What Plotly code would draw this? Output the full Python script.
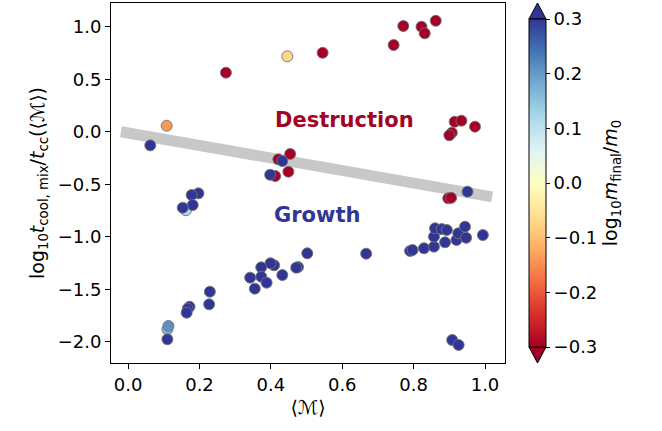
import plotly.graph_objects as go

# Mean Mach number, cooling/cloud-crushing time ratio, and final mass change
mach = [
    0.771, 0.744, 0.545, 0.822, 0.831, 0.862, 0.274, 0.915, 0.934, 0.972,
    0.907, 0.900, 0.897, 0.905, 0.454, 0.421, 0.449, 0.412,
    0.446, 0.108, 0.162, 0.110, 0.113,
    0.062, 0.432, 0.398, 0.951, 0.197, 0.178, 0.181, 0.153,
    0.502, 0.667, 0.790, 0.476, 0.471, 0.432, 0.409, 0.399, 0.373, 0.373,
    0.342, 0.388, 0.355, 0.229, 0.227, 0.172, 0.167, 0.164, 0.110,
    0.797, 0.829, 0.857, 0.857, 0.860, 0.879, 0.893, 0.888, 0.920, 0.925,
    0.944, 0.947, 0.994, 0.908, 0.926,
]
log_t_ratio = [
    1.007, 0.826, 0.752, 1.000, 0.937, 1.057, 0.562, 0.095, 0.105, 0.048,
    -0.010, -0.034, -0.634, -0.630, -0.212, -0.263, -0.381, -0.422,
    0.718, 0.057, -0.748, -1.882, -1.850,
    -0.130, -0.279, -0.410, -0.571, -0.587, -0.603, -0.698, -0.724,
    -1.158, -1.162, -1.136, -1.289, -1.295, -1.365, -1.272, -1.253, -1.292, -1.381,
    -1.390, -1.438, -1.495, -1.524, -1.644, -1.667, -1.686, -1.724, -1.977,
    -1.127, -1.110, -1.095, -1.000, -0.920, -0.927, -0.936, -1.053, -1.031, -0.968,
    -0.905, -1.010, -0.984, -1.984, -2.031,
]
log_mass_ratio = [
    -0.35, -0.35, -0.35, -0.35, -0.35, -0.35, -0.35, -0.35, -0.35, -0.35,
    -0.35, -0.35, -0.35, -0.35, -0.35, -0.35, -0.35, -0.35,
    -0.07, -0.14, 0.12, 0.17, 0.21,
    0.35, 0.35, 0.35, 0.35, 0.35, 0.35, 0.35, 0.35,
    0.35, 0.35, 0.35, 0.35, 0.35, 0.35, 0.35, 0.35, 0.35, 0.35,
    0.35, 0.35, 0.35, 0.35, 0.35, 0.35, 0.35, 0.35, 0.35,
    0.35, 0.35, 0.35, 0.35, 0.35, 0.35, 0.35, 0.35, 0.35, 0.35,
    0.35, 0.35, 0.35, 0.35, 0.35,
]

# Dividing line between growth and destruction regimes
divide_x = [-0.02, 1.02]
divide_y = [0.0, -0.62]

x_ticks = [0.0, 0.2, 0.4, 0.6, 0.8, 1.0]
y_ticks = [1.0, 0.5, 0.0, -0.5, -1.0, -1.5, -2.0]
cbar_ticks = [-0.3, -0.2, -0.1, 0.0, 0.1, 0.2, 0.3]


def fmt(v):
    s = f"{abs(v):.1f}"
    return ("\u2212" + s) if v < 0 else s


FONT = "DejaVu Sans"
RED = "#a50026"
BLUE = "#313695"

fig = go.Figure()

fig.add_trace(go.Scatter(
    x=divide_x, y=divide_y, mode="lines",
    line=dict(color="#c8c8c8", width=11),
    hoverinfo="skip", showlegend=False,
))

fig.add_trace(go.Scatter(
    x=mach, y=log_t_ratio, mode="markers",
    marker=dict(
        size=11,
        color=log_mass_ratio,
        colorscale="RdYlBu",
        cmin=-0.3, cmax=0.3,
        line=dict(color="rgba(115,115,115,0.9)", width=1),
        colorbar=dict(
            x=1.061, xanchor="left", xpad=0,
            y=0.5, yanchor="middle", ypad=0,
            len=0.9111, lenmode="fraction",
            thickness=17,
            outlinecolor="black", outlinewidth=1,
            ticks="outside", ticklen=4, tickcolor="black",
            tickvals=cbar_ticks, ticktext=[fmt(v) for v in cbar_ticks],
            tickfont=dict(family=FONT, size=18, color="black"),
            title=dict(
                text="log<sub>10</sub><i>m</i><sub>final</sub>/<i>m</i><sub>0</sub>",
                side="right",
                font=dict(family=FONT, size=19, color="black"),
            ),
        ),
    ),
    showlegend=False,
))

fig.add_annotation(x=0.605, y=0.11, text="<b>Destruction</b>", showarrow=False,
                   font=dict(family=FONT, size=21, color=RED))
fig.add_annotation(x=0.529, y=-0.79, text="<b>Growth</b>", showarrow=False,
                   font=dict(family=FONT, size=21, color=BLUE))

# Colorbar extension triangles
cb_l, cb_r = 1.0609, 1.1041
cb_m = (cb_l + cb_r) / 2
fig.add_shape(type="path", xref="paper", yref="paper",
              path=f"M {cb_l},0.9556 L {cb_r},0.9556 L {cb_m},1.0 Z",
              fillcolor=BLUE, line=dict(color="black", width=1))
fig.add_shape(type="path", xref="paper", yref="paper",
              path=f"M {cb_l},0.0444 L {cb_r},0.0444 L {cb_m},0.0 Z",
              fillcolor=RED, line=dict(color="black", width=1))

axis_common = dict(
    showline=True, linecolor="black", linewidth=1, mirror=True,
    ticks="outside", ticklen=5, tickcolor="black",
    showgrid=False, zeroline=False,
    tickfont=dict(family=FONT, size=18, color="black"),
)

fig.update_xaxes(
    range=[-0.048, 1.056],
    tickvals=x_ticks, ticktext=[fmt(v) for v in x_ticks],
    title=dict(text="\u27e8\u2133\u27e9", font=dict(family=FONT, size=19, color="black"), standoff=7),
    **axis_common,
)
fig.update_yaxes(
    range=[-2.203, 1.226],
    tickvals=y_ticks, ticktext=[fmt(v) for v in y_ticks],
    title=dict(
        text="log<sub>10</sub><i>t</i><sub>cool, mix</sub>/<i>t</i><sub>cc</sub>(\u27e8\u2133\u27e9)",
        font=dict(family=FONT, size=19, color="black"), standoff=8,
    ),
    **axis_common,
)

fig.update_layout(
    width=662, height=431,
    margin=dict(l=111, r=157, t=3, b=68),
    plot_bgcolor="white", paper_bgcolor="white",
    font=dict(family=FONT, color="black"),
)

fig.write_html("out.html")
